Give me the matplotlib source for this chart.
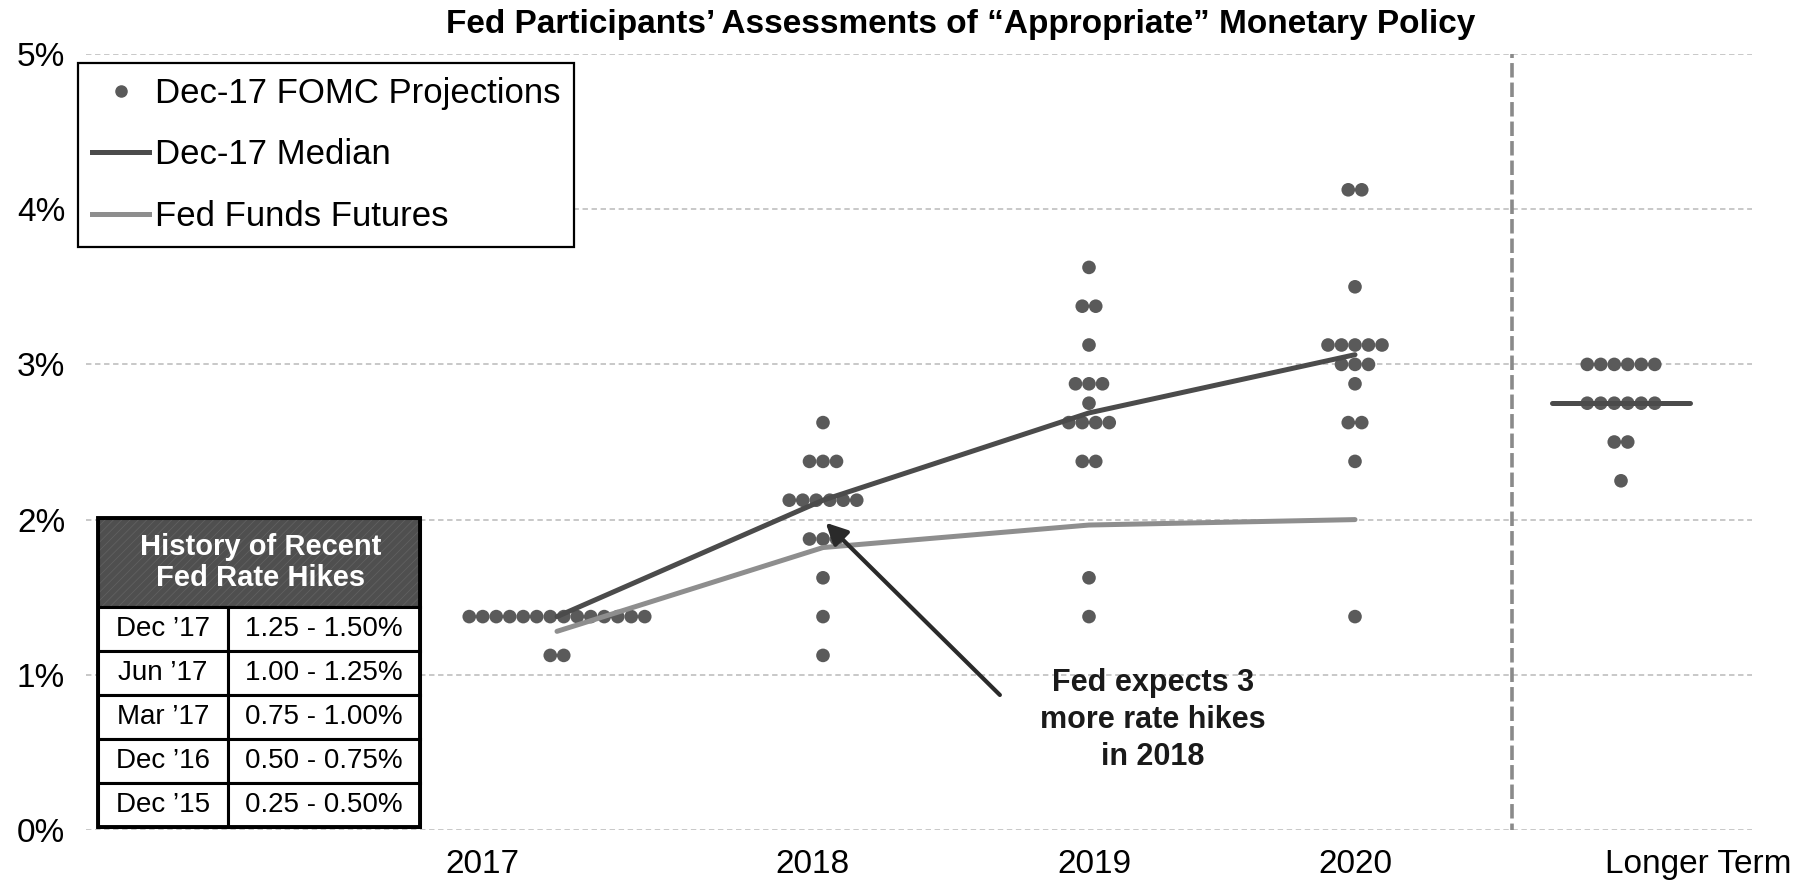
import matplotlib
matplotlib.use("Agg")
import matplotlib.pyplot as plt
from matplotlib.lines import Line2D
from matplotlib.patches import Rectangle

plt.rcParams['font.family'] = ['Liberation Sans', 'DejaVu Sans']

# ---------------------------------------------------------------- data
title = "Fed Participants\u2019 Assessments of \u201cAppropriate\u201d Monetary Policy"
columns = ["2017", "2018", "2019", "2020", "Longer Term"]

# FOMC participants' projections: rate levels and number of dots at each
rates_2017 = [1.375, 1.125]
counts_2017 = [14, 2]
rates_2018 = [2.625, 2.375, 2.125, 1.875, 1.625, 1.375, 1.125]
counts_2018 = [1, 3, 6, 3, 1, 1, 1]
rates_2019 = [3.625, 3.375, 3.125, 2.875, 2.75, 2.625, 2.375, 1.625, 1.375]
counts_2019 = [1, 2, 1, 3, 1, 4, 2, 1, 1]
rates_2020 = [4.125, 3.5, 3.125, 3.0, 2.875, 2.625, 2.375, 1.375]
counts_2020 = [2, 1, 5, 3, 1, 2, 1, 1]
rates_longer = [3.0, 2.75, 2.5, 2.25]
counts_longer = [6, 6, 2, 1]

median_values = [1.375, 2.125, 2.6875, 3.0625]
median_longer = 2.75
futures_values = [1.28, 1.82, 1.965, 2.0]

yticks = [0, 1, 2, 3, 4, 5]
ytick_labels = ["0%", "1%", "2%", "3%", "4%", "5%"]

hike_dates = ["Dec \u201917", "Jun \u201917", "Mar \u201917", "Dec \u201916", "Dec \u201915"]
hike_ranges = ["1.25 - 1.50%", "1.00 - 1.25%", "0.75 - 1.00%",
               "0.50 - 0.75%", "0.25 - 0.50%"]

# ---------------------------------------------------------------- styling
W, H = 1802, 893
DOT = "#5a5a5a"
MEDIAN = "#4b4b4b"
FUTURES = "#8e8e8e"
GRID = "#c4c4c4"

fig = plt.figure(figsize=(W / 100, H / 100), dpi=100)
fig.patch.set_facecolor("white")

# plot area in pixels: left, right, top (5%), bottom (0%)
L, R, T, B = 86, 1752, 54, 830
ax = fig.add_axes([L / W, 1 - B / H, (R - L) / W, (B - T) / H])
col_px = 266.0          # pixel distance between columns
x0_px = 557.0           # pixel position of the first column
ax.set_xlim((L - x0_px) / col_px, (R - x0_px) / col_px)
ax.set_ylim(0, 5)
for s in ax.spines.values():
    s.set_visible(False)

# horizontal gridlines
for y in yticks:
    ax.axhline(y, color=GRID, lw=1.3, ls=(0, (3, 2)), zorder=0)

ax.set_yticks(yticks)
ax.set_yticklabels(ytick_labels, fontsize=24)
ax.tick_params(axis="y", length=0, pad=15)

label_pos = [-0.28, 0.96, 2.02, 3.0, 4.29]
ax.set_xticks(label_pos)
ax.set_xticklabels(columns, fontsize=24)
ax.tick_params(axis="x", length=0, pad=14)

# dots
dot_w = 13.5 / col_px
all_rates = [rates_2017, rates_2018, rates_2019, rates_2020, rates_longer]
all_counts = [counts_2017, counts_2018, counts_2019, counts_2020, counts_longer]
for ci, (rates, counts) in enumerate(zip(all_rates, all_counts)):
    xs, ys = [], []
    for r, n in zip(rates, counts):
        for k in range(n):
            xs.append(ci + (k - (n - 1) / 2) * dot_w)
            ys.append(r)
    ax.scatter(xs, ys, s=96, color=DOT, edgecolors="none", zorder=3)

# separator before the longer-run column
ax.plot([3.59, 3.59], [-0.05, 5.0], color="#8a8a8a", lw=2.6,
        ls=(0, (4, 1.4)), zorder=2, solid_capstyle="butt")

# median and futures paths
ax.plot(range(len(futures_values)), futures_values, color=FUTURES, lw=3.6,
        zorder=4, solid_capstyle="round")
ax.plot(range(len(median_values)), median_values, color=MEDIAN, lw=3.6,
        zorder=5, solid_capstyle="round")
ax.plot([3.74, 4.26], [median_longer, median_longer], color=MEDIAN, lw=3.6,
        zorder=5, solid_capstyle="round")

# annotation
ax.annotate("", xy=(1.01, 1.98), xytext=(1.665, 0.87),
            arrowprops=dict(arrowstyle="-|>", lw=3, color="#2a2a2a",
                            mutation_scale=32, shrinkA=0, shrinkB=0),
            zorder=6)
ax.text(2.24, 0.71, "Fed expects 3\nmore rate hikes\nin 2018", ha="center",
        va="center", fontsize=22, fontweight="bold", linespacing=1.3,
        color="#1a1a1a", zorder=6)

# title
fig.text(961 / W, 1 - 25 / H, title, ha="center", va="center", fontsize=24,
         fontweight="bold")

# legend
handles = [
    Line2D([], [], marker="o", ls="", color=DOT, ms=8),
    Line2D([], [], color=MEDIAN, lw=3.6),
    Line2D([], [], color=FUTURES, lw=3.6),
]
labels = ["Dec-17 FOMC Projections", "Dec-17 Median", "Fed Funds Futures"]
leg = ax.legend(handles, labels, loc="upper left",
                bbox_to_anchor=(78 / W, 1 - 63 / H),
                bbox_transform=fig.transFigure, fontsize=25, frameon=True,
                fancybox=False, framealpha=1, edgecolor="black",
                handlelength=1.65, handletextpad=0.17, borderpad=0.4,
                labelspacing=0.82, borderaxespad=0)
leg.get_frame().set_linewidth(1.6)
leg.set_zorder(10)

# rate hike history table (pixel overlay)
ov = fig.add_axes([0, 0, 1, 1], zorder=20)
ov.set_xlim(0, W)
ov.set_ylim(H, 0)
ov.axis("off")
ov.patch.set_alpha(0)

tx0, tx1, tmid = 98, 420, 228
hdr_top, hdr_bot = 518, 607
row_h = (827 - hdr_bot) / len(hike_dates)
ov.add_patch(Rectangle((tx0, hdr_top), tx1 - tx0, hdr_bot - hdr_top,
                       facecolor="#4f4f4f", edgecolor="black", lw=2.2))
plt.rcParams["hatch.linewidth"] = 0.6
ov.add_patch(Rectangle((tx0, hdr_top), tx1 - tx0, hdr_bot - hdr_top,
                       facecolor="none", edgecolor="#606060", hatch="////",
                       lw=0))
ov.text((tx0 + tx1) / 2 + 2, (hdr_top + hdr_bot) / 2,
        "History of Recent\nFed Rate Hikes", ha="center", va="center",
        fontsize=21, fontweight="bold", color="white", linespacing=1.15)
for i, (d, r) in enumerate(zip(hike_dates, hike_ranges)):
    y = hdr_bot + i * row_h
    ov.add_patch(Rectangle((tx0, y), tmid - tx0, row_h, facecolor="white",
                           edgecolor="black", lw=2.2))
    ov.add_patch(Rectangle((tmid, y), tx1 - tmid, row_h, facecolor="white",
                           edgecolor="black", lw=2.2))
    ov.text((tx0 + tmid) / 2, y + row_h / 2, d, ha="center", va="center",
            fontsize=20)
    ov.text((tmid + tx1) / 2, y + row_h / 2, r, ha="center", va="center",
            fontsize=20)
ov.add_patch(Rectangle((tx0, hdr_top), tx1 - tx0, 827 - hdr_top,
                       facecolor="none", edgecolor="black", lw=2.8))

fig.savefig("out.png", dpi=100, facecolor="white")
